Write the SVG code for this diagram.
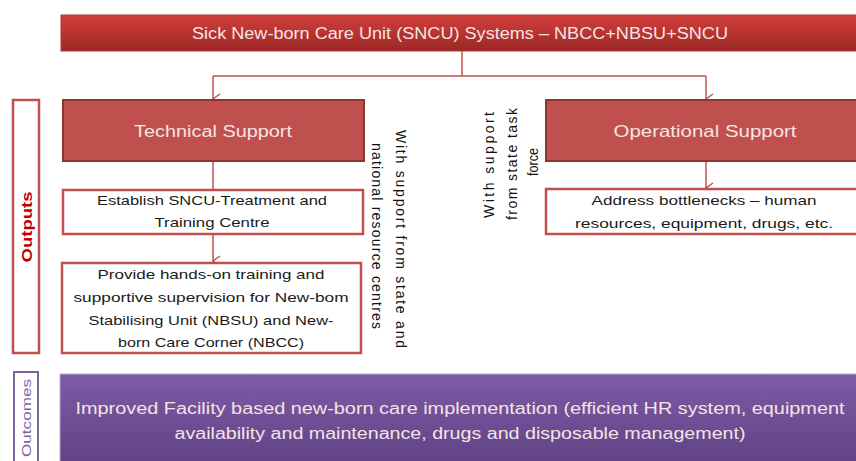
<svg xmlns="http://www.w3.org/2000/svg" width="856" height="461" viewBox="0 0 856 461">
<defs>
<linearGradient id="gTitle" x1="0" y1="0" x2="0" y2="1">
<stop offset="0" stop-color="#cf3e3b"/><stop offset="0.5" stop-color="#b93330"/><stop offset="1" stop-color="#992826"/>
</linearGradient>
<linearGradient id="gPurple" x1="0" y1="0" x2="0" y2="1">
<stop offset="0" stop-color="#7e5ba6"/><stop offset="1" stop-color="#5f4284"/>
</linearGradient>
<marker id="arr" markerWidth="12" markerHeight="12" refX="6" refY="10" orient="auto-start-reverse" markerUnits="userSpaceOnUse" viewBox="0 0 12 12">
<path d="M1,3 L6,10 L11,3" fill="none" stroke="#c0504d" stroke-width="1.5"/>
</marker>
<style>
text{font-family:"Liberation Sans",Arial,sans-serif;}
.wt{fill:#f4e4e3;font-size:16px;text-anchor:middle;dominant-baseline:central;}
.bt{fill:#1a1a1a;font-size:13.5px;text-anchor:middle;dominant-baseline:central;}
.vt{fill:#111;font-size:14px;text-anchor:middle;dominant-baseline:central;}
.red{fill:#c0504d;stroke:#8c3634;stroke-width:2;}
.wbox{fill:#fff;stroke:#c0504d;stroke-width:2.5;}
.conn{fill:none;stroke:#c0504d;stroke-width:1.5;}
</style>
</defs>
<g id="title">
<rect x="61" y="15" width="800" height="36" fill="url(#gTitle)" stroke="#b03a37" stroke-width="1"/>
<text class="wt" x="460" y="33" textLength="536" lengthAdjust="spacingAndGlyphs">Sick New-born Care Unit (SNCU)  Systems – NBCC+NBSU+SNCU</text>
</g>
<g id="connectors">
<path class="conn" d="M462,51 V76"/>
<path class="conn" d="M213,76 H706"/>
<path class="conn" d="M213,76 V99" marker-end="url(#arr)"/>
<path class="conn" d="M706,76 V99" marker-end="url(#arr)"/>
<path class="conn" d="M213,161 V189"/>
<path class="conn" d="M213,234 V261" marker-end="url(#arr)"/>
<path class="conn" d="M706,161 V188" marker-end="url(#arr)"/>
</g>
<g id="outputs-label">
<rect x="13" y="100" width="26" height="253" fill="#fff" stroke="#c0504d" stroke-width="2.5"/>
<text x="26" y="227" transform="rotate(-90 26 227)" font-size="15" font-weight="bold" fill="#c00000" text-anchor="middle" dominant-baseline="central" textLength="71" lengthAdjust="spacingAndGlyphs">Outputs</text>
</g>
<g id="technical">
<rect class="red" x="63" y="100" width="301" height="61"/>
<text class="wt" x="213" y="131" font-size="17" textLength="158" lengthAdjust="spacingAndGlyphs">Technical Support</text>
</g>
<g id="operational">
<rect class="red" x="546" y="100" width="320" height="61"/>
<text class="wt" x="705" y="131" font-size="17" textLength="183" lengthAdjust="spacingAndGlyphs">Operational Support</text>
</g>
<g id="establish">
<rect class="wbox" x="63" y="190" width="300" height="44"/>
<text class="bt" x="212" y="200" textLength="230" lengthAdjust="spacingAndGlyphs">Establish SNCU-Treatment and</text>
<text class="bt" x="212" y="222" textLength="115" lengthAdjust="spacingAndGlyphs">Training Centre</text>
</g>
<g id="provide">
<rect class="wbox" x="62" y="263" width="299" height="90"/>
<text class="bt" x="211" y="274" textLength="227" lengthAdjust="spacingAndGlyphs">Provide hands-on training and</text>
<text class="bt" x="211" y="297" textLength="275" lengthAdjust="spacingAndGlyphs">supportive supervision for New-bom</text>
<text class="bt" x="211" y="320" textLength="245" lengthAdjust="spacingAndGlyphs">Stabilising Unit (NBSU) and New-</text>
<text class="bt" x="211" y="342" textLength="186" lengthAdjust="spacingAndGlyphs">born Care Corner (NBCC)</text>
</g>
<g id="address">
<rect class="wbox" x="546" y="189" width="320" height="45"/>
<text class="bt" x="704" y="200" textLength="225" lengthAdjust="spacingAndGlyphs">Address bottlenecks – human</text>
<text class="bt" x="704" y="223" textLength="258" lengthAdjust="spacingAndGlyphs">resources,  equipment, drugs, etc.</text>
</g>
<g id="note-technical">
<text class="vt" x="401" y="239" transform="rotate(90 401 239)" textLength="218" lengthAdjust="spacing">With support from state and</text>
<text class="vt" x="377" y="236" transform="rotate(90 377 236)" textLength="186" lengthAdjust="spacing">national resource centres</text>
</g>
<g id="note-operational">
<text class="vt" x="489" y="165" transform="rotate(-90 489 165)" textLength="106" lengthAdjust="spacing">With support</text>
<text class="vt" x="512" y="164" transform="rotate(-90 512 164)" textLength="112" lengthAdjust="spacing">from state task</text>
<text class="vt" x="533" y="162" transform="rotate(-90 533 162)" textLength="28" lengthAdjust="spacingAndGlyphs">force</text>
</g>
<g id="outcomes-label">
<rect x="14" y="372" width="24" height="95" fill="#fff" stroke="#8064a2" stroke-width="2"/>
<text x="26" y="418" transform="rotate(-90 26 418)" font-size="13" fill="#8064a2" text-anchor="middle" dominant-baseline="central" textLength="78" lengthAdjust="spacingAndGlyphs">Outcomes</text>
</g>
<g id="outcome">
<rect x="60" y="374" width="800" height="92" fill="url(#gPurple)" stroke="#b9a9cf" stroke-width="1"/>
<text class="wt" x="460" y="408" textLength="769" lengthAdjust="spacingAndGlyphs">Improved Facility based new-born care implementation  (efficient HR system, equipment</text>
<text class="wt" x="460" y="433" textLength="571" lengthAdjust="spacingAndGlyphs">availability and maintenance, drugs and disposable management)</text>
</g>
</svg>
